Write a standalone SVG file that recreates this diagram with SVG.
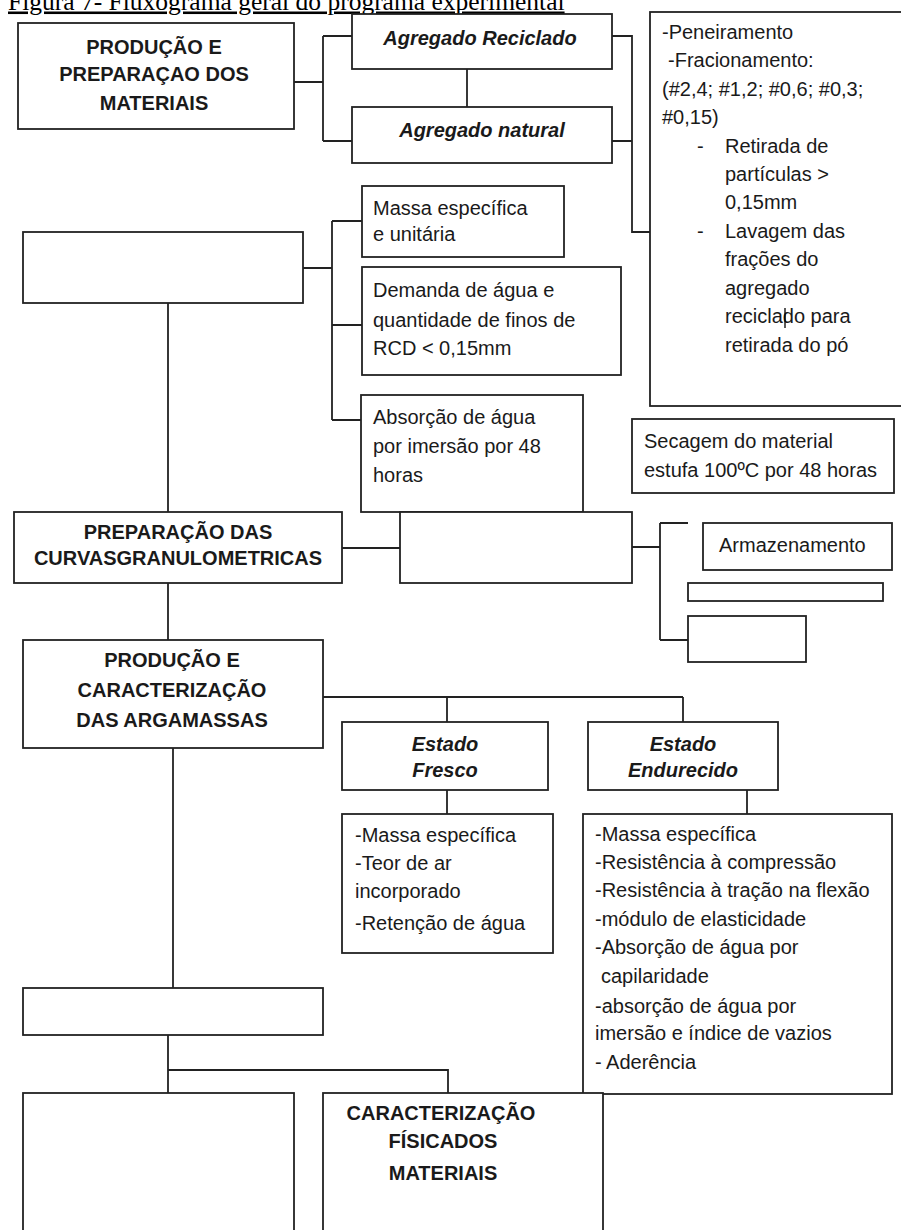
<svg xmlns="http://www.w3.org/2000/svg" width="901" height="1230" viewBox="0 0 901 1230">
<style>
.box{fill:#fff;stroke:#222;stroke-width:1.8}
.conn{fill:none;stroke:#222;stroke-width:1.8}
.t{font-family:"Liberation Sans",Arial,sans-serif;font-size:20px;fill:#1a1a1a}
.b{font-weight:bold}
.i{font-style:italic}
.c{text-anchor:middle}
.title{font-family:"Liberation Serif","Times New Roman",serif;font-size:25.5px;fill:#000;text-decoration:underline}
</style>
<rect x="0" y="0" width="901" height="1230" fill="#fff"/>
<text class="title" x="8" y="9.5">Figura 7- Fluxograma geral do programa experimental</text>

<g id="connectors">
<path class="conn" d="M294 82H323M323 36V141M323 36H352M323 141H352"/>
<path class="conn" d="M467 69V107"/>
<path class="conn" d="M612 36H632V232H650M612 141H632"/>
<path class="conn" d="M303 268H332M332 221V420M332 221H362M332 325H362M332 420H361"/>
<path class="conn" d="M168 303V512M168 583V640"/>
<path class="conn" d="M342 548H400"/>
<path class="conn" d="M632 547H660M660 523V640M660 523H688M660 640H688"/>
<path class="conn" d="M323 697H683M447 697V722M683 697V722M447 790V814M747 790V814"/>
<path class="conn" d="M173 748V988"/>
<path class="conn" d="M168 1035V1093M168 1070H448V1093"/>
</g>

<g id="n-producao-materiais">
<rect class="box" x="18" y="23" width="276" height="106"/>
<text class="t b c" x="154" y="54">PRODUÇÃO E</text>
<text class="t b c" x="154" y="81">PREPARAÇAO DOS</text>
<text class="t b c" x="154" y="110">MATERIAIS</text>
</g>

<g id="n-agregado-reciclado">
<rect class="box" x="352" y="14" width="260" height="55"/>
<text class="t b i c" x="480" y="45">Agregado Reciclado</text>
</g>

<g id="n-agregado-natural">
<rect class="box" x="352" y="107" width="260" height="56"/>
<text class="t b i c" x="482" y="137">Agregado natural</text>
</g>

<g id="n-beneficiamento">
<rect class="box" x="650" y="12" width="270" height="394"/>
<text class="t" x="662" y="39">-Peneiramento</text>
<text class="t" x="668" y="67">-Fracionamento:</text>
<text class="t" x="662" y="96">(#2,4; #1,2; #0,6; #0,3;</text>
<text class="t" x="662" y="124">#0,15)</text>
<text class="t" x="697" y="153">-</text>
<text class="t" x="725" y="153">Retirada de</text>
<text class="t" x="725" y="181">partículas &gt;</text>
<text class="t" x="725" y="209">0,15mm</text>
<text class="t" x="697" y="238">-</text>
<text class="t" x="725" y="238">Lavagem das</text>
<text class="t" x="725" y="266">frações do</text>
<text class="t" x="725" y="295">agregado</text>
<text class="t" x="725" y="323">reciclado para</text>
<text class="t" x="725" y="352">retirada do pó</text>
<line x1="785" y1="308" x2="785" y2="328" stroke="#000" stroke-width="1.3"/>
</g>

<g id="n-caracterizacao-blank">
<rect class="box" x="23" y="232" width="280" height="71"/>
</g>

<g id="n-massa">
<rect class="box" x="362" y="186" width="202" height="71"/>
<text class="t" x="373" y="215">Massa específica</text>
<text class="t" x="373" y="241">e unitária</text>
</g>

<g id="n-demanda">
<rect class="box" x="362" y="267" width="259" height="108"/>
<text class="t" x="373" y="297">Demanda de água  e</text>
<text class="t" x="373" y="327">quantidade de finos de</text>
<text class="t" x="373" y="355">RCD &lt; 0,15mm</text>
</g>

<g id="n-absorcao">
<rect class="box" x="361" y="395" width="222" height="117"/>
<text class="t" x="373" y="424">Absorção de água</text>
<text class="t" x="373" y="453">por imersão  por 48</text>
<text class="t" x="373" y="482">horas</text>
</g>

<g id="n-secagem">
<rect class="box" x="632" y="419" width="262" height="74"/>
<text class="t" x="644" y="448">Secagem do material</text>
<text class="t" x="644" y="477">estufa 100ºC por 48 horas</text>
</g>

<g id="n-curvas">
<rect class="box" x="14" y="512" width="328" height="71"/>
<text class="t b c" x="178" y="539">PREPARAÇÃO DAS</text>
<text class="t b c" x="178" y="565">CURVASGRANULOMETRICAS</text>
</g>

<g id="n-blank-mid">
<rect class="box" x="400" y="512" width="232" height="71"/>
</g>

<g id="n-armazenamento">
<rect class="box" x="703" y="523" width="189" height="47"/>
<text class="t" x="719" y="552">Armazenamento</text>
</g>

<g id="n-thin">
<rect class="box" x="688" y="583" width="195" height="18"/>
</g>

<g id="n-small">
<rect class="box" x="688" y="616" width="118" height="46"/>
</g>

<g id="n-producao-argamassas">
<rect class="box" x="23" y="640" width="300" height="108"/>
<text class="t b c" x="172" y="667">PRODUÇÃO  E</text>
<text class="t b c" x="172" y="697">CARACTERIZAÇÃO</text>
<text class="t b c" x="172" y="727">DAS ARGAMASSAS</text>
</g>

<g id="n-fresco">
<rect class="box" x="342" y="722" width="206" height="68"/>
<text class="t b i c" x="445" y="751">Estado</text>
<text class="t b i c" x="445" y="777">Fresco</text>
</g>

<g id="n-endurecido">
<rect class="box" x="588" y="722" width="190" height="68"/>
<text class="t b i c" x="683" y="751">Estado</text>
<text class="t b i c" x="683" y="777">Endurecido</text>
</g>

<g id="n-fresco-lista">
<rect class="box" x="342" y="814" width="211" height="139"/>
<text class="t" x="355" y="842">-Massa específica</text>
<text class="t" x="355" y="870">-Teor de ar</text>
<text class="t" x="355" y="898">incorporado</text>
<text class="t" x="355" y="930">-Retenção de água</text>
</g>

<g id="n-endurecido-lista">
<rect class="box" x="583" y="814" width="309" height="280"/>
<text class="t" x="595" y="841">-Massa específica</text>
<text class="t" x="595" y="869">-Resistência à compressão</text>
<text class="t" x="595" y="897">-Resistência à tração na flexão</text>
<text class="t" x="595" y="926">-módulo de elasticidade</text>
<text class="t" x="595" y="954">-Absorção de água por</text>
<text class="t" x="601" y="983">capilaridade</text>
<text class="t" x="595" y="1013">-absorção de água por</text>
<text class="t" x="595" y="1040">imersão e índice de vazios</text>
<text class="t" x="595" y="1069">- Aderência</text>
</g>

<g id="n-blank-bottom">
<rect class="box" x="23" y="988" width="300" height="47"/>
</g>

<g id="n-bottom-left">
<rect class="box" x="23" y="1093" width="271" height="170"/>
</g>

<g id="n-caracterizacao-fisica">
<rect class="box" x="323" y="1093" width="280" height="170"/>
<text class="t b c" x="441" y="1120">CARACTERIZAÇÃO</text>
<text class="t b c" x="443" y="1148">FÍSICADOS</text>
<text class="t b c" x="443" y="1180">MATERIAIS</text>
</g>
</svg>
